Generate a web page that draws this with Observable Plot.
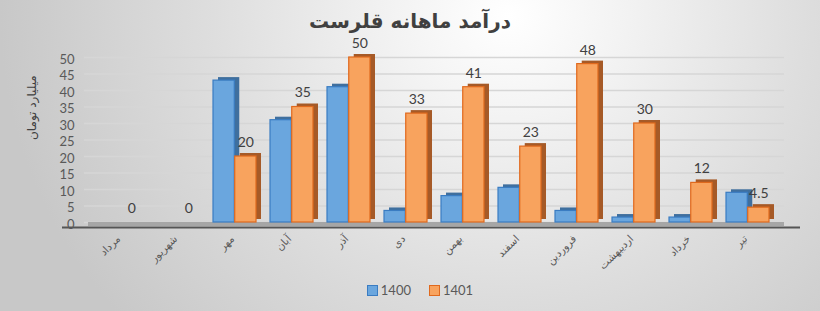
<!DOCTYPE html>
<html>
<head>
<meta charset="utf-8">
<script src="https://cdn.jsdelivr.net/npm/d3@7"></script>
<script src="https://cdn.jsdelivr.net/npm/@observablehq/plot@0.6"></script>
<style>
  html, body { margin: 0; padding: 0; }
  body {
    width: 820px; height: 311px; overflow: hidden;
    background: radial-gradient(ellipse 62% 150% at 62% 5%, #ffffff 0%, #f3f3f3 22%, #dedede 58%, #c8c8c8 100%);
    font-family: Lato, "DejaVu Sans", sans-serif;
  }
  #title {
    height: 40px; line-height: 42px; text-align: center;
    font-family: "DejaVu Sans", sans-serif; font-weight: bold; font-size: 20px; color: #404040;
  }
  #chart svg { overflow: visible; }
  #legend {
    display: flex; justify-content: center; gap: 18px; margin-top: 2px;
    font-size: 13px; color: #595959; margin-left: 20px;
  }
  #legend span.sw { display: inline-block; width: 9px; height: 9px; margin-right: 3px; vertical-align: -1px; border: 1px solid; }
</style>
</head>
<body>
<div id="title">درآمد ماهانه قلرست</div>
<div id="chart"></div>
<div id="legend"></div>
<script>
const months = ["مرداد","شهریور","مهر","آبان","آذر","دی","بهمن","اسفند","فروردین","اردیبهشت","خرداد","تیر"];
const seriesNames = ["1400","1401"];
const values1400 = [0, 0, 43, 31, 41, 3.5, 8, 10.5, 3.5, 1.5, 1.5, 9];
const values1401 = [0, 0, 20, 35, 50, 33, 41, 23, 48, 30, 12, 4.5];
const yTicks = [0, 5, 10, 15, 20, 25, 30, 35, 40, 45, 50];
const yTitle = "میلیارد تومان";

const colors = {
  "1400": {fill: "#6aa6de", stroke: "#3a7cc2", side: "#3f6f9e"},
  "1401": {fill: "#f8a35e", stroke: "#e0691d", side: "#a65a27"}
};

const d1400 = months.map((m, i) => ({month: m, value: values1400[i]}));
const d1401 = months.map((m, i) => ({month: m, value: values1401[i]}));

const W = 820, ML = 84, MR = 36, pad = 0.24;
const step = (W - ML - MR) / (months.length + pad);
const half = step * (1 - pad) / 2;

const chart = Plot.plot({
  width: W, height: 240,
  marginLeft: ML, marginRight: MR, marginTop: 17, marginBottom: 58,
  style: {background: "transparent", fontFamily: 'Lato, "DejaVu Sans", sans-serif', color: "#595959", overflow: "visible"},
  x: {domain: months, padding: pad, axis: null},
  y: {domain: [0, 50], axis: null},
  marks: [
    Plot.gridY(yTicks, {stroke: "#d6d6d6", strokeOpacity: 1, strokeWidth: 1.5}),
    Plot.ruleY([0], {stroke: "#a6a6a6", strokeWidth: 4, dy: 1.5, insetLeft: 4}),
    Plot.ruleY([0], {stroke: "#555", strokeWidth: 2, dy: 5, insetLeft: -22, insetRight: -16}),
    // depth (side) faces
    Plot.barY(d1400, {x: "month", y: "value", insetRight: half, fill: colors["1400"].side, dx: 5, dy: -3}),
    Plot.barY(d1400, {x: "month", y: "value", insetRight: half, fill: colors["1400"].fill, stroke: colors["1400"].stroke, strokeWidth: 1.2}),
    Plot.barY(d1401, {x: "month", y: "value", insetLeft: half, fill: colors["1401"].side, dx: 5, dy: -3}),
    Plot.barY(d1401, {x: "month", y: "value", insetLeft: half, fill: colors["1401"].fill, stroke: colors["1401"].stroke, strokeWidth: 1.2}),
    Plot.text(d1401, {x: "month", y: "value", text: d => String(d.value), dx: half / 2, dy: -14, fontSize: 14, fill: "#404040"}),
    Plot.axisY(yTicks, {tickSize: 0, tickPadding: 10, dy: 2, fontSize: 13, label: null}),
    Plot.text([yTitle], {frameAnchor: "left", dx: -52, rotate: -90, fontSize: 12, fill: "#404040", fontFamily: '"DejaVu Sans", sans-serif'}),
    Plot.text(months, {x: d => d, frameAnchor: "bottom", rotate: -45, textAnchor: "end", dx: 0, dy: 17, fontSize: 10.5, fill: "#595959", fontFamily: '"DejaVu Sans", sans-serif'})
  ]
});
document.getElementById("chart").appendChild(chart);

const legend = document.getElementById("legend");
seriesNames.forEach(s => {
  const item = document.createElement("span");
  item.innerHTML = `<span class="sw" style="background:${colors[s].fill};border-color:${colors[s].stroke}"></span>${s}`;
  legend.appendChild(item);
});
</script>
</body>
</html>
